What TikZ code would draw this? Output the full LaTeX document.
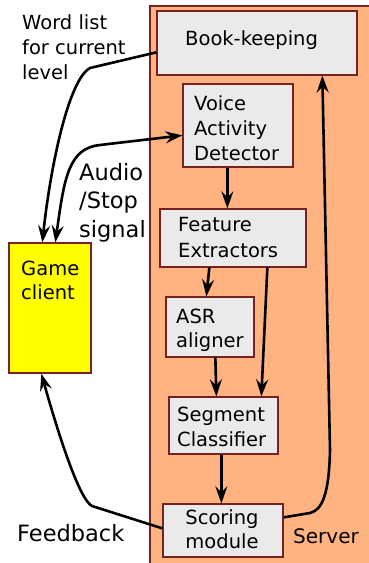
\documentclass[tikz,border=0pt]{standalone}
\usepackage{fontspec}
\setmainfont{DejaVu Sans}
\usetikzlibrary{arrows.meta,calc}
\definecolor{srvfill}{HTML}{FFB380}
\definecolor{edge}{HTML}{782121}
\definecolor{boxfill}{HTML}{EAEAEA}
\definecolor{gamefill}{HTML}{FFFF00}
\begin{document}
\begin{tikzpicture}[x=1pt,y=-1pt,
  blk/.style={draw=edge,line width=1.3pt,fill=boxfill,inner sep=0pt,minimum width=#1},
  blk/.default=10pt,
  lbl/.style={inner sep=0pt,anchor=base west,align=left,font=\fontsize{19.5}{25}\selectfont},
  big/.style={inner sep=0pt,anchor=base west,align=left,font=\fontsize{22.5}{28.5}\selectfont},
  conn/.style={line width=2.6pt,-{Stealth[length=17pt,width=12pt,inset=6pt]}},
  both/.style={line width=2.6pt,{Stealth[length=17pt,width=12pt,inset=6pt]}-{Stealth[length=17pt,width=12pt,inset=6pt]}}
]
\useasboundingbox (0,0) rectangle (369,563);
\clip (0,0) rectangle (369,563);
% server
\node[draw=edge,line width=1.3pt,fill=srvfill,inner sep=0pt,minimum width=225pt,minimum height=568pt] (server) at (262.5,290) {};
% boxes
\node[blk=200pt,minimum height=64pt] (book) at (257,43) {};
\node[blk=110pt,minimum height=83pt] (vad) at (238,125.5) {};
\node[blk=146pt,minimum height=58pt] (feat) at (233,238) {};
\node[blk=88pt,minimum height=60pt] (asr) at (210,327) {};
\node[blk=109pt,minimum height=57pt] (seg) at (223.5,425.5) {};
\node[blk=120pt,minimum height=53pt] (score) at (223,530.5) {};
\node[draw=edge,line width=1.3pt,fill=gamefill,inner sep=0pt,minimum width=82pt,minimum height=130pt] (game) at (50,308) {};
% texts (base = baseline of last line)
\node[lbl] (tword) at (22,79) {Word list\\for current\\level};
\node[lbl] (tbook) at (185,45) {Book-keeping};
\node[lbl] (tvad) at (194,160) {Voice\\Activity\\Detector};
\node[lbl,font=\fontsize{19.5}{26}\selectfont] (tfeat) at (178,257) {Feature\\Extractors};
\node[lbl,font=\fontsize{19.5}{23.5}\selectfont] (tasr) at (176,347) {ASR\\aligner};
\node[lbl,font=\fontsize{19.5}{24}\selectfont] (tgame) at (21,299) {Game\\client};
\node[lbl] (tseg) at (177,446) {Segment\\Classifier};
\node[lbl,anchor=base,align=center,font=\fontsize{19.5}{24}\selectfont] (tscore) at (222,548) {Scoring\\module};
\node[big] (tfeed) at (17,541) {Feedback};
\node[lbl,font=\fontsize{20}{25}\selectfont] (tserver) at (293,543) {Server};
\node[big] (taudio) at (79,237) {Audio\\/Stop\\signal};
% connectors
\draw[conn] ($(book.north west)+(0,42)$) -- (90,68) .. controls (68,80) and (50,170) .. ($(game.north west)+(34,0)$);
\draw[both] ($(game.north west)+(47,0)$) .. controls (64,180) and (68,148) .. (100,145) -- ($(vad.north west)+(0,52)$);
\draw[conn] ($(vad.south west)+(45,0)$) -- ($(feat.north west)+(68,0)$);
\draw[conn] ($(feat.south west)+(50,0)$) -- ($(asr.north west)+(41,0)$);
\draw[conn] ($(feat.south west)+(108,0)$) -- ($(seg.north west)+(93,0)$);
\draw[conn] ($(asr.south west)+(50,0)$) -- ($(seg.north west)+(48,0)$);
\draw[conn] ($(seg.south west)+(53,0)$) -- ($(score.north west)+(59,0)$);
\draw[conn] ($(score.north east)+(0,14)$) -- (310,513) .. controls (322,510) and (329,495) .. (330,450) -- ($(book.south west)+(166,0)$);
\draw[conn] ($(score.north west)+(0,25)$) -- (92,506) .. controls (80,500) and (60,440) .. ($(game.south west)+(33,0)$);
\end{tikzpicture}
\end{document}
